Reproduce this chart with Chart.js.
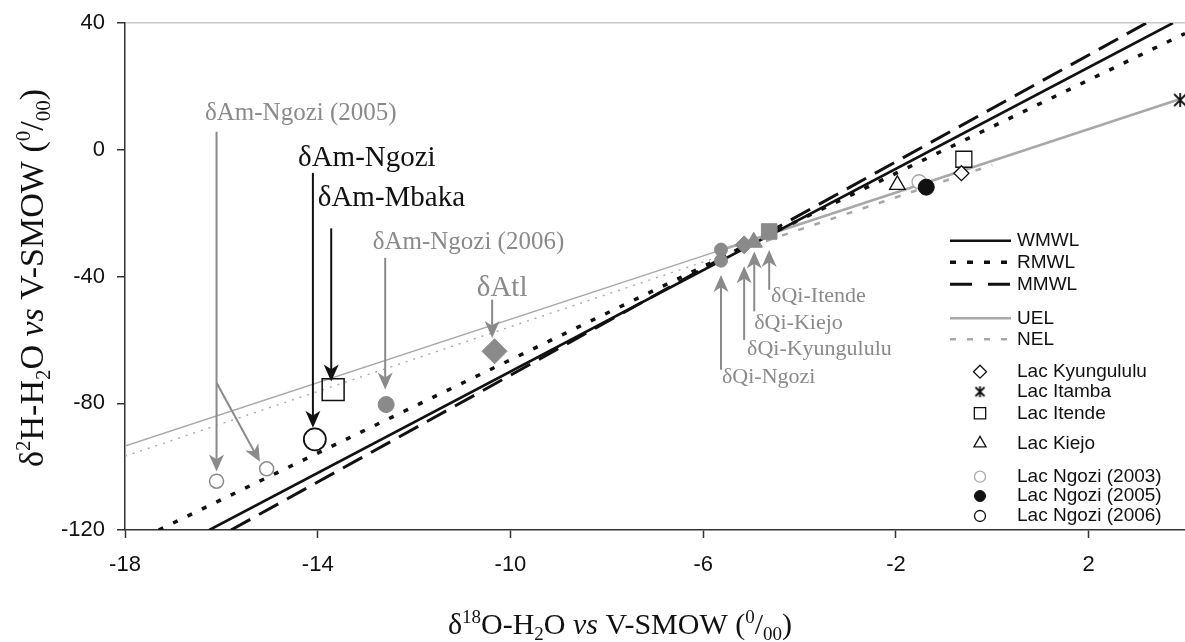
<!DOCTYPE html>
<html>
<head>
<meta charset="utf-8">
<title>d18O vs d2H</title>
<script src="https://cdn.jsdelivr.net/npm/chart.js@4.4.1/dist/chart.umd.min.js"></script>
<style>
  html, body { margin: 0; padding: 0; background: #fff; overflow: hidden; }
  #box { width: 1185px; height: 642px; position: relative; }
  canvas { display: block; }
</style>
</head>
<body>
<div id="box"><canvas id="chart"></canvas></div>
<script>
// axis ticks
const xTicks = [-18, -14, -10, -6, -2, 2]
const yTicks = [-120, -80, -40, 0, 40]

// water lines (end points)
const wmwlX = [-16.25, 3.75]
const wmwlY = [-120, 40]
const rmwlX = [-17.3, 4]
const rmwlY = [-120, 36.7]
const mmwlX = [-15.8, 3.2]
const mmwlY = [-120, 40]
const uelX = [-18, -5.7, 3.9]
const uelY = [-93.5, -32, 16]
const nelX = [-18, -5.7, 0]
const nelY = [-96.7, -33.9, -4.8]

// lakes
const kyungululuX = [-0.64]
const kyungululuY = [-7.4]
const itambaX = [3.9]
const itambaY = [15.7]
const itendeX = [-0.59]
const itendeY = [-3.0]
const kiejoX = [-1.97]
const kiejoY = [-11.1]
const ngozi03X = [-1.52]
const ngozi03Y = [-10.1]
const ngozi05X = [-1.37]
const ngozi05Y = [-11.8]
const ngozi06X = []
const ngozi06Y = []

// end members
const amNgozi05X = [-16.1, -15.06]
const amNgozi05Y = [-104.6, -100.7]
const amNgoziX = [-14.06]
const amNgoziY = [-91.4]
const amMbakaX = [-13.68]
const amMbakaY = [-75.7]
const amNgozi06X = [-12.58]
const amNgozi06Y = [-80.4]
const atlX = [-10.33]
const atlY = [-63.6]
const qiNgoziX = [-5.63, -5.63]
const qiNgoziY = [-31.5, -35]
const qiKyungululuX = [-5.15]
const qiKyungululuY = [-30]
const qiKiejoX = [-4.95]
const qiKiejoY = [-29.2]
const qiItendeX = [-4.63]
const qiItendeY = [-25.8]

const black = '#111'
const gray = '#8a8a8a'
const lightGray = '#a8a8a8'
const serif = '"Liberation Serif", "Times New Roman", serif'
const sans = '"Liberation Sans", Arial, sans-serif'

const pts = (xs, ys) => xs.map((x, i) => ({x: x, y: ys[i]}))

function asterisk(size, color){
    let c = document.createElement('canvas')
    c.width = size; c.height = size
    let g = c.getContext('2d')
    g.strokeStyle = color
    g.lineWidth = 1.8
    g.beginPath()
    g.moveTo(2, 2); g.lineTo(size - 2, size - 2)
    g.moveTo(size - 2, 2); g.lineTo(2, size - 2)
    g.moveTo(size / 2, 1); g.lineTo(size / 2, size - 1)
    g.stroke()
    return c
}

function marker(label, xs, ys, style, r, fill, stroke, bw){
    return {
        label: label,
        data: pts(xs, ys),
        order: 0,
        showLine: false,
        pointStyle: style,
        pointRadius: r,
        pointHoverRadius: r,
        pointBackgroundColor: fill,
        pointBorderColor: stroke,
        pointBorderWidth: bw
    }
}

function waterLine(label, xs, ys, color, width, dash, segment){
    let d = {
        type: 'line',
        label: label,
        data: pts(xs, ys),
        order: 1,
        borderColor: color,
        borderWidth: width,
        borderDash: dash,
        pointRadius: 0,
        pointHoverRadius: 0,
        fill: false,
        tension: 0
    }
    if (segment) d.segment = segment
    return d
}

const none = 'rgba(0,0,0,0)'
const datasets = [
    marker('Lac Kyungululu', kyungululuX, kyungululuY, 'rectRot', 7.5, '#fff', black, 1.3),
    marker('Lac Itamba', itambaX, itambaY, asterisk(16, black), 8, black, black, 1),
    marker('Lac Itende', itendeX, itendeY, 'rect', 11.3, none, black, 1.3),
    marker('Lac Kiejo', kiejoX, kiejoY, 'triangle', 9, '#fff', black, 1.3),
    marker('Lac Ngozi (2005)', ngozi05X, ngozi05Y, 'circle', 8, black, black, 1),
    marker('Lac Ngozi (2003)', ngozi03X, ngozi03Y, 'circle', 7, '#fff', lightGray, 1.3),
    marker('Lac Ngozi (2006)', ngozi06X, ngozi06Y, 'circle', 6, '#fff', black, 1.3),
    marker('Am Ngozi 2005', amNgozi05X, amNgozi05Y, 'circle', 7, '#fff', gray, 1.5),
    marker('Am Ngozi', amNgoziX, amNgoziY, 'circle', 11, '#fff', black, 1.8),
    marker('Am Mbaka', amMbakaX, amMbakaY, 'rect', 15.5, none, black, 1.5),
    marker('Am Ngozi 2006', amNgozi06X, amNgozi06Y, 'circle', 8, gray, gray, 1),
    marker('Atl', atlX, atlY, 'rectRot', 12.5, gray, gray, 1),
    marker('Qi Itende', qiItendeX, qiItendeY, 'rect', 11, gray, gray, 1),
    marker('Qi Kiejo', qiKiejoX, qiKiejoY, 'triangle', 10, gray, gray, 1),
    marker('Qi Kyungululu', qiKyungululuX, qiKyungululuY, 'rectRot', 9, gray, gray, 1),
    marker('Qi Ngozi', qiNgoziX, qiNgoziY, 'circle', 6.5, gray, gray, 1),
    waterLine('WMWL', wmwlX, wmwlY, black, 2.6, []),
    waterLine('RMWL', rmwlX, rmwlY, black, 3.5, [5, 11]),
    waterLine('MMWL', mmwlX, mmwlY, black, 3, [22, 10]),
    waterLine('UEL', uelX, uelY, lightGray, 2.5, [], {
        borderWidth: c => c.p0.parsed.x < -6 ? 1.4 : 2.6
    }),
    waterLine('NEL', nelX, nelY, lightGray, 2.5, [6, 11], {
        borderWidth: c => c.p0.parsed.x < -6 ? 1.4 : 2.6,
        borderDash: c => c.p0.parsed.x < -6 ? [2, 6] : [6, 11]
    })
]

// labels + arrows drawn in data units
const notes = [
    {text: 'δAm-Ngozi (2005)', x: -16.34, y: 11.6, color: gray, size: 25},
    {text: 'δAm-Ngozi', x: -14.41, y: -2.6, color: black, size: 29},
    {text: 'δAm-Mbaka', x: -14.0, y: -15.2, color: black, size: 29},
    {text: 'δAm-Ngozi (2006)', x: -12.86, y: -29.1, color: gray, size: 25},
    {text: 'δAtl', x: -10.7, y: -43.6, color: gray, size: 29},
    {text: 'δQi-Itende', x: -4.59, y: -46.1, color: gray, size: 22},
    {text: 'δQi-Kiejo', x: -4.94, y: -54.6, color: gray, size: 22},
    {text: 'δQi-Kyungululu', x: -5.09, y: -63.1, color: gray, size: 22},
    {text: 'δQi-Ngozi', x: -5.61, y: -71.9, color: gray, size: 22}
]
const arrows = [
    {from: [-16.1, 5.7], to: [-16.1, -101.5], color: gray},
    {from: [-16.1, -73.5], to: [-15.2, -98.5], color: gray},
    {from: [-14.1, -7.3], to: [-14.1, -87.7], color: black},
    {from: [-13.72, -24.8], to: [-13.72, -73.1], color: black},
    {from: [-12.6, -34.1], to: [-12.6, -75.7], color: gray},
    {from: [-10.38, -47.3], to: [-10.38, -59.4], color: gray},
    {from: [-4.63, -44.2], to: [-4.63, -31.6], color: gray},
    {from: [-4.94, -51], to: [-4.94, -32.1], color: gray},
    {from: [-5.15, -60], to: [-5.15, -36.8], color: gray},
    {from: [-5.63, -69.4], to: [-5.63, -39.5], color: gray}
]

// legend rows: [label, row y in px, marker radius]
const legendLines = [['WMWL', 240.7], ['RMWL', 262.3], ['MMWL', 284.3], ['UEL', 318.3], ['NEL', 339.3]]
const legendMarks = [
    ['Lac Kyungululu', 371.7, 6.5], ['Lac Itamba', 391.7, 7], ['Lac Itende', 413.3, 8],
    ['Lac Kiejo', 443.3, 7], ['Lac Ngozi (2003)', 476.7, 5.5], ['Lac Ngozi (2005)', 496, 5.5],
    ['Lac Ngozi (2006)', 516, 5.5]
]

const xTitle = [['δ', 'n'], ['18', 'sup'], ['O-H', 'n'], ['2', 'sub'], ['O ', 'n'], ['vs', 'i'],
    [' V-SMOW (', 'n'], ['0', 'sup'], ['/', 'n'], ['00', 'sub'], [')', 'n']]
const yTitle = [['δ', 'n'], ['2', 'sup'], ['H-H', 'n'], ['2', 'sub'], ['O ', 'n'], ['vs', 'i'],
    [' V-SMOW (', 'n'], ['0', 'sup'], ['/', 'n'], ['00', 'sub'], [')', 'n']]

function partFont(kind, size){
    if (kind == 'sup' || kind == 'sub') return Math.round(size * 0.62) + 'px ' + serif
    if (kind == 'i') return 'italic ' + size + 'px ' + serif
    return size + 'px ' + serif
}

function drawRich(ctx, parts, size, cx, baseline){
    let total = 0
    for (const [t, k] of parts){
        ctx.font = partFont(k, size)
        total += ctx.measureText(t).width
    }
    let x = cx - total / 2
    ctx.textAlign = 'left'
    ctx.textBaseline = 'alphabetic'
    for (const [t, k] of parts){
        ctx.font = partFont(k, size)
        let dy = k == 'sup' ? -0.38 * size : (k == 'sub' ? 0.2 * size : 0)
        ctx.fillText(t, x, baseline + dy)
        x += ctx.measureText(t).width
    }
}

function drawArrow(ctx, x1, y1, x2, y2, color){
    let a = Math.atan2(y2 - y1, x2 - x1)
    let hl = 17, hw = 7.5
    let c = Math.cos(a), s = Math.sin(a)
    ctx.strokeStyle = color
    ctx.fillStyle = color
    ctx.lineWidth = 2
    ctx.beginPath()
    ctx.moveTo(x1, y1)
    ctx.lineTo(x2 - hl * 0.7 * c, y2 - hl * 0.7 * s)
    ctx.stroke()
    let bx = x2 - hl * c, by = y2 - hl * s
    ctx.beginPath()
    ctx.moveTo(x2, y2)
    ctx.lineTo(bx - hw * s, by + hw * c)
    ctx.lineTo(x2 - hl * 0.72 * c, y2 - hl * 0.72 * s)
    ctx.lineTo(bx + hw * s, by - hw * c)
    ctx.closePath()
    ctx.fill()
}

const notesPlugin = {
    id: 'notes',
    afterDatasetsDraw(chart){
        let ctx = chart.ctx
        let xs = chart.scales.x, ys = chart.scales.y
        ctx.save()
        for (const ar of arrows){
            drawArrow(ctx, xs.getPixelForValue(ar.from[0]), ys.getPixelForValue(ar.from[1]),
                xs.getPixelForValue(ar.to[0]), ys.getPixelForValue(ar.to[1]), ar.color)
        }
        ctx.textAlign = 'left'
        ctx.textBaseline = 'middle'
        for (const n of notes){
            ctx.font = n.size + 'px ' + serif
            ctx.fillStyle = n.color
            ctx.fillText(n.text, xs.getPixelForValue(n.x), ys.getPixelForValue(n.y))
        }
        ctx.restore()
    },
    afterDraw(chart){
        let ctx = chart.ctx
        ctx.save()
        // axis titles
        ctx.fillStyle = black
        drawRich(ctx, xTitle, 30, 620, 634)
        ctx.translate(43, 278)
        ctx.rotate(-Math.PI / 2)
        drawRich(ctx, yTitle, 34, 0, 0)
        ctx.restore()

        // legend
        ctx.save()
        let byLabel = {}
        chart.data.datasets.forEach(d => byLabel[d.label] = d)
        ctx.font = '19px ' + sans
        ctx.textAlign = 'left'
        ctx.textBaseline = 'middle'
        for (const [label, y] of legendLines){
            let d = byLabel[label]
            ctx.strokeStyle = d.borderColor
            ctx.lineWidth = label == 'UEL' || label == 'NEL' ? 2.6 : d.borderWidth
            ctx.setLineDash(label == 'RMWL' ? [6, 11] : (label == 'MMWL' ? [22, 16] : d.borderDash))
            ctx.beginPath()
            ctx.moveTo(950, y)
            ctx.lineTo(1011, y)
            ctx.stroke()
            ctx.setLineDash([])
            ctx.fillStyle = black
            ctx.fillText(label, 1017, y)
        }
        for (const [label, y, r] of legendMarks){
            let d = byLabel[label]
            ctx.fillStyle = d.pointBackgroundColor
            ctx.strokeStyle = d.pointBorderColor
            ctx.lineWidth = d.pointBorderWidth
            let style = d.pointStyle
            if (typeof style != 'string') {
                ctx.drawImage(asterisk(13, black), 980 - 6.5, y - 6.5)
            } else {
                Chart.helpers.drawPoint(ctx, {pointStyle: style, rotation: 0, radius: r, borderWidth: d.pointBorderWidth}, 980, y)
            }
            ctx.fillStyle = black
            ctx.fillText(label, 1017, y)
        }
        ctx.restore()
    }
}

const chart = new Chart(document.getElementById('chart'), {
    type: 'scatter',
    data: {datasets: datasets},
    options: {
        responsive: true,
        maintainAspectRatio: false,
        animation: false,
        events: [],
        layout: {autoPadding: false, padding: {top: 23, right: 0, left: 0, bottom: 0}},
        plugins: {legend: {display: false}, tooltip: {enabled: false}},
        scales: {
            x: {
                type: 'linear',
                min: -18,
                max: 4,
                afterBuildTicks: s => { s.ticks = xTicks.map(v => ({value: v})) },
                afterFit: s => { s.height = 112; s.paddingLeft = 0; s.paddingRight = 0 },
                grid: {drawOnChartArea: false, drawTicks: true, tickLength: 8, tickColor: '#333', tickWidth: 1.5},
                border: {color: '#333', width: 1.5},
                ticks: {color: '#111', padding: 14, font: {family: sans, size: 22}, maxRotation: 0}
            },
            y: {
                type: 'linear',
                min: -120,
                max: 40,
                afterBuildTicks: s => { s.ticks = yTicks.map(v => ({value: v})) },
                afterFit: s => { s.width = 125; s.paddingTop = 0; s.paddingBottom = 0 },
                grid: {
                    drawOnChartArea: true,
                    color: c => c.tick && c.tick.value == 40 ? '#c8c8c8' : 'rgba(0,0,0,0)',
                    lineWidth: 1.5,
                    drawTicks: true, tickLength: 8, tickColor: '#333', tickWidth: 1.5
                },
                border: {color: '#333', width: 1.5},
                ticks: {color: '#111', padding: 12, font: {family: sans, size: 22}}
            }
        }
    },
    plugins: [notesPlugin]
})
</script>
</body>
</html>
